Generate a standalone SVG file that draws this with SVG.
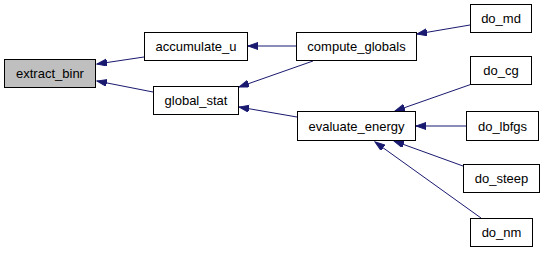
<svg xmlns="http://www.w3.org/2000/svg" width="544" height="253" viewBox="0 0 544 253">
  <style>
    .node rect { fill: #ffffff; stroke: #000000; stroke-width: 1; }
    .node.root rect { fill: #bfbfbf; }
    .node text { font-family: "Liberation Sans", Arial, sans-serif; font-size: 13px; fill: #000000; text-anchor: middle; }
    .edge { fill: none; stroke: #191970; stroke-width: 1; marker-end: url(#arrow); }
  </style>
  <defs>
    <marker id="arrow" markerUnits="userSpaceOnUse" markerWidth="11" markerHeight="8" refX="10" refY="3.5" orient="auto">
      <path d="M0,0 L10,3.5 L0,7 z" fill="#191970" stroke="#191970" stroke-width="1"/>
    </marker>
  </defs>
  <rect width="544" height="253" fill="#ffffff"/>

  <g id="edges">
    <path class="edge" d="M144,57 L97,64"/>
    <path class="edge" d="M153,92 L97,81"/>
    <path class="edge" d="M296,46 L248,46"/>
    <path class="edge" d="M313,61 L239,87"/>
    <path class="edge" d="M297,117 L239,107"/>
    <path class="edge" d="M470,25 L417,34"/>
    <path class="edge" d="M472,84 L395,111"/>
    <path class="edge" d="M466,126 L416,126"/>
    <path class="edge" d="M463,166 L394,141"/>
    <path class="edge" d="M481,218 L375,142"/>
  </g>

  <g id="extract_binr" class="node root">
    <rect x="4.5" y="59.5" width="91" height="28"/>
    <text x="50" y="78">extract_binr</text>
  </g>
  <g id="accumulate_u" class="node">
    <rect x="144.5" y="32.5" width="103" height="28"/>
    <text x="196" y="51">accumulate_u</text>
  </g>
  <g id="global_stat" class="node">
    <rect x="153.5" y="86.5" width="85" height="28"/>
    <text x="196" y="105">global_stat</text>
  </g>
  <g id="compute_globals" class="node">
    <rect x="296.5" y="32.5" width="120" height="28"/>
    <text x="356.5" y="51">compute_globals</text>
  </g>
  <g id="evaluate_energy" class="node">
    <rect x="297.5" y="111.5" width="118" height="29"/>
    <text x="356.5" y="130.5">evaluate_energy</text>
  </g>
  <g id="do_md" class="node">
    <rect x="470.5" y="4.5" width="61" height="28"/>
    <text x="501" y="23">do_md</text>
  </g>
  <g id="do_cg" class="node">
    <rect x="470.5" y="56.5" width="61" height="28"/>
    <text x="501" y="75">do_cg</text>
  </g>
  <g id="do_lbfgs" class="node">
    <rect x="466.5" y="111.5" width="72" height="29"/>
    <text x="502.5" y="130.5">do_lbfgs</text>
  </g>
  <g id="do_steep" class="node">
    <rect x="463.5" y="164.5" width="76" height="28"/>
    <text x="501.5" y="183">do_steep</text>
  </g>
  <g id="do_nm" class="node">
    <rect x="470.5" y="218.5" width="62" height="28"/>
    <text x="501.5" y="237">do_nm</text>
  </g>
</svg>
